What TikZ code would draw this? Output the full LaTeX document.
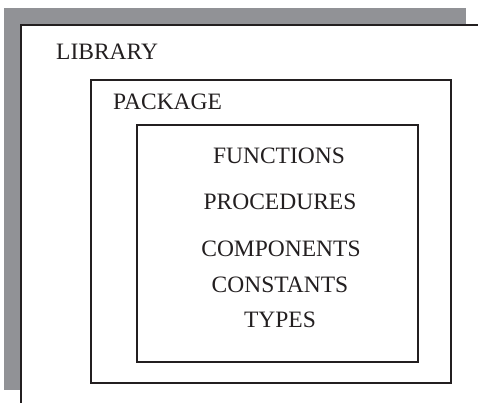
\documentclass[tikz,border=0pt]{standalone}
\usepackage{fontspec}
\setmainfont{Liberation Serif}
\definecolor{shadowgray}{RGB}{145,146,150}
\definecolor{ink}{RGB}{35,31,32}
\begin{document}
\begin{tikzpicture}[x=1pt,y=-1pt,
  frame/.style={draw=ink,line width=1.5pt},
  lbl/.style={font=\fontsize{23.5}{28}\selectfont,text=ink,inner sep=0pt,anchor=base},
  lbll/.style={font=\fontsize{23.5}{28}\selectfont,text=ink,inner sep=0pt,anchor=base west}]
\useasboundingbox (0,0) rectangle (478,403);
\fill[shadowgray] (4,8) rectangle (466,390);
\fill[white] (21,25) rectangle (478,403);
\draw[frame] (478,25) -- (21,25) -- (21,403);
\draw[frame] (91,80) rectangle (451,383);
\draw[frame] (137,125) rectangle (418,362);
\node[lbll] (lib) at (56,60) {LIBRARY};
\node[lbll] (pkg) at (113,110) {PACKAGE};
\node[lbl] (fun) at (279,164) {FUNCTIONS};
\node[lbl] (proc) at (280,209) {PROCEDURES};
\node[lbl] (comp) at (281,256) {COMPONENTS};
\node[lbl] (const) at (280,292) {CONSTANTS};
\node[lbl] (types) at (280,327) {TYPES};
\end{tikzpicture}
\end{document}
